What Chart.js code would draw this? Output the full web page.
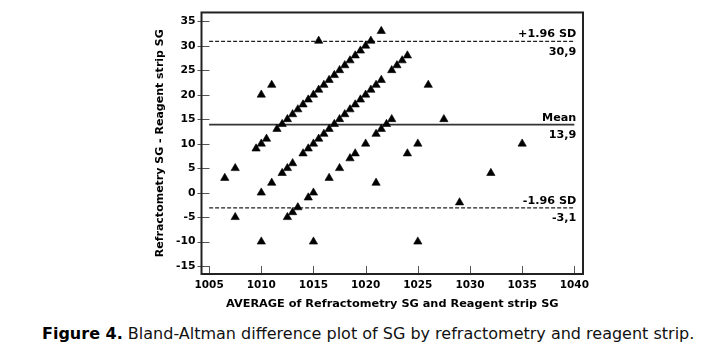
<!DOCTYPE html>
<html>
<head>
<meta charset="utf-8">
<script src="https://cdn.jsdelivr.net/npm/chart.js@4"></script>
<style>
  html, body { margin: 0; padding: 0; background: #fff; width: 705px; height: 355px; overflow: hidden; }
  #wrap { position: absolute; left: 0; top: 0; width: 705px; height: 315px; }
  #cap { position: absolute; left: 42px; top: 325px; font-family: 'DejaVu Sans', sans-serif; font-size: 16px; line-height: 18px; color: #111; white-space: nowrap; }
  #cap b { color: #000; }
</style>
</head>
<body>
<div id="wrap"><canvas id="c" width="705" height="315"></canvas></div>
<div id="cap"><b>Figure 4.</b> Bland-Altman difference plot of SG by refractometry and reagent strip.</div>
<script>
// Average of the two methods (x) and difference (y) for each sample
const pointsAvg = [
  // strip 1005 diagonal
  1009.5, 1010, 1010.5, 1011.5, 1012, 1012.5, 1013, 1013.5, 1014, 1014.5, 1015, 1015.5,
  1016, 1016.5, 1017, 1017.5, 1018, 1018.5, 1019, 1019.5, 1020, 1020.5, 1021.5,
  // strip 1010 diagonal
  1010, 1011, 1012, 1012.5, 1013, 1014, 1014.5, 1015, 1015.5, 1016, 1016.5, 1017, 1017.5,
  1018, 1018.5, 1019, 1019.5, 1020, 1020.5, 1021, 1021.5, 1022.5, 1023, 1023.5, 1024,
  // strip 1015 diagonal
  1012.5, 1013, 1013.5, 1014.5, 1015, 1016.5, 1017.5, 1018.5, 1019, 1020, 1021, 1021.5, 1022, 1022.5,
  // scattered samples
  1006.5, 1007.5, 1007.5, 1010, 1015, 1010, 1011, 1015.5, 1021, 1024, 1025, 1026, 1027.5, 1025, 1029, 1032, 1035
];
const pointsDiff = [
  9, 10, 11, 13, 14, 15, 16, 17, 18, 19, 20, 21,
  22, 23, 24, 25, 26, 27, 28, 29, 30, 31, 33,
  0, 2, 4, 5, 6, 8, 9, 10, 11, 12, 13, 14, 15,
  16, 17, 18, 19, 20, 21, 22, 23, 25, 26, 27, 28,
  -5, -4, -3, -1, 0, 3, 5, 7, 8, 10, 12, 13, 14, 15,
  3, 5, -5, -10, -10, 20, 22, 31, 2, 8, 10, 22, 15, -10, -2, 4, 10
];
const limitValues = [30.9, 13.9, -3.1];
const limitNames = ['+1.96 SD', 'Mean', '-1.96 SD'];
const limitLabels = ['30,9', '13,9', '-3,1'];
const limitRange = [1005, 1040];
const xTicks = [1005, 1010, 1015, 1020, 1025, 1030, 1035, 1040];
const yTicks = [-15, -10, -5, 0, 5, 10, 15, 20, 25, 30, 35];
const xTitle = 'AVERAGE of Refractometry SG and Reagent strip SG';
const yTitle = 'Refractometry SG - Reagent strip SG';

const FONT = "'DejaVu Sans', sans-serif";

const framePlugin = {
  id: 'frame',
  afterDraw(chart) {
    const { ctx, chartArea: a, scales: { x, y } } = chart;
    ctx.save();
    ctx.strokeStyle = '#555';
    ctx.lineWidth = 1;
    yTicks.forEach(v => {
      const py = Math.round(y.getPixelForValue(v)) + 0.5;
      ctx.beginPath(); ctx.moveTo(a.left - 4, py); ctx.lineTo(a.left + 8, py); ctx.stroke();
    });
    xTicks.forEach(v => {
      const px = Math.round(x.getPixelForValue(v)) + 0.5;
      ctx.beginPath(); ctx.moveTo(px, a.bottom); ctx.lineTo(px, a.bottom - 8); ctx.stroke();
    });
    ctx.lineWidth = 2;
    ctx.strokeStyle = '#222';
    ctx.strokeRect(a.left, a.top, a.right - a.left, a.bottom - a.top);
    ctx.font = 'bold 11.2px ' + FONT;
    ctx.fillStyle = '#000';
    ctx.textAlign = 'right';
    ctx.textBaseline = 'alphabetic';
    const px = x.getPixelForValue(limitRange[1]) + 2;
    limitValues.forEach((v, i) => {
      const py = y.getPixelForValue(v);
      ctx.fillText(limitNames[i], px, py - 4);
      ctx.fillText(limitLabels[i], px, py + 13.5);
    });
    ctx.restore();
  }
};

const lineSets = limitValues.map((v, i) => ({
  data: limitRange.map(xv => ({ x: xv, y: v })),
  showLine: true,
  borderColor: i === 1 ? '#333' : '#222',
  borderWidth: i === 1 ? 1.6 : 1.3,
  borderDash: i === 1 ? [] : [4, 2],
  pointRadius: 0,
  order: 1
}));

new Chart(document.getElementById('c'), {
  type: 'scatter',
  data: {
    datasets: [
      {
        data: pointsAvg.map((v, i) => ({ x: v, y: pointsDiff[i] })),
        pointStyle: 'triangle',
        pointRadius: 4.8,
        backgroundColor: '#000',
        borderColor: '#000',
        borderWidth: 0.6,
        order: 0
      },
      ...lineSets
    ]
  },
  options: {
    responsive: false,
    animation: false,
    devicePixelRatio: 1,
    layout: { padding: { left: 150, right: 122, top: 11, bottom: 0 } },
    plugins: { legend: { display: false }, tooltip: { enabled: false } },
    scales: {
      x: {
        type: 'linear',
        min: 1004.27,
        max: 1040.83,
        afterBuildTicks: s => { s.ticks = xTicks.map(v => ({ value: v })); },
        afterFit: s => { s.height = 41; },
        grid: { display: false, drawTicks: false },
        border: { display: false },
        ticks: { font: { family: FONT, size: 10.5, weight: 'bold' }, color: '#000', padding: 5, autoSkip: false, maxRotation: 0, callback: v => String(v) },
        title: { display: true, text: xTitle, color: '#000', font: { family: FONT, size: 11.3, weight: 'bold' }, padding: { top: 0, bottom: 4.5 } }
      },
      y: {
        type: 'linear',
        min: -16.6,
        max: 36.8,
        afterBuildTicks: s => { s.ticks = yTicks.map(v => ({ value: v })); },
        afterFit: s => { s.width = 51.5; },
        grid: { display: false, drawTicks: false },
        border: { display: false },
        ticks: { font: { family: FONT, size: 10.8, weight: 'bold' }, color: '#000', padding: 6, callback: v => String(v) },
        title: { display: true, text: yTitle, color: '#000', font: { family: FONT, size: 11, weight: 'bold' }, padding: { top: 3.4, bottom: 0 } }
      }
    }
  },
  plugins: [framePlugin]
});
</script>
</body>
</html>
